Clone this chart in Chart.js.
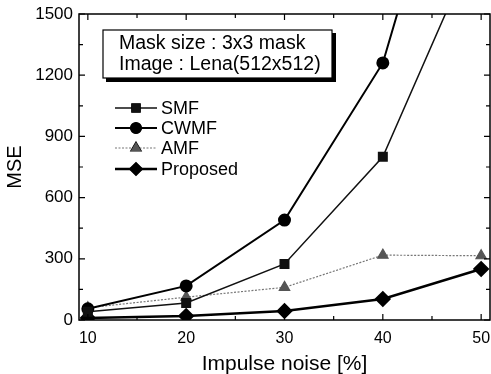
<!DOCTYPE html>
<html>
<head>
<meta charset="utf-8">
<script src="https://cdn.jsdelivr.net/npm/chart.js@4.4.1/dist/chart.umd.min.js"></script>
<style>
  html, body { margin: 0; padding: 0; background: #fff; }
  #wrap { width: 491px; height: 374px; position: relative; }
</style>
</head>
<body>
<div id="wrap"><canvas id="chart" width="491" height="374"></canvas></div>
<script>
// impulse noise density [%]
const noise = [10, 20, 30, 40, 50];
// MSE values (CWMF and SMF leave the top of the chart at 50%)
const smf = [40, 83, 275, 800, 1900];
const cwmf = [55, 167, 490, 1260, 2900];
const amf = [60, 112, 160, 318, 315];
const proposed = [10, 20, 44, 103, 250];

const xTicks = [10, 20, 30, 40, 50];
const yTicks = [0, 300, 600, 900, 1200, 1500];
const infoLines = ["Mask size : 3x3 mask", "Image : Lena(512x512)"];

const FONT = "'Liberation Sans', Arial, sans-serif";

function pts(vals) {
  return noise.map((x, i) => ({x: x, y: vals[i]}));
}

// inward ticks + frame, info box, legend
const decorations = {
  id: "decorations",
  afterDraw(chart) {
    const ctx = chart.ctx;
    const a = chart.chartArea;
    const xs = chart.scales.x, ys = chart.scales.y;
    ctx.save();
    ctx.strokeStyle = "#000";
    ctx.lineWidth = 1.5;
    ctx.strokeRect(a.left, a.top, a.right - a.left, a.bottom - a.top);

    ctx.lineWidth = 1.2;
    ctx.beginPath();
    for (let v = 0; v <= 1500; v += 150) {
      const y = ys.getPixelForValue(v);
      const len = v % 300 === 0 ? 6 : 4;
      ctx.moveTo(a.left, y); ctx.lineTo(a.left + len, y);
      ctx.moveTo(a.right, y); ctx.lineTo(a.right - len, y);
    }
    for (let v = 10; v <= 50; v += 5) {
      const x = xs.getPixelForValue(v);
      const len = v % 10 === 0 ? 6 : 4;
      ctx.moveTo(x, a.bottom); ctx.lineTo(x, a.bottom - len);
      ctx.moveTo(x, a.top); ctx.lineTo(x, a.top + len);
    }
    ctx.stroke();

    // info box with drop shadow
    ctx.fillStyle = "#000";
    ctx.fillRect(106, 33, 230, 49);
    ctx.fillStyle = "#fff";
    ctx.fillRect(103, 30, 229, 48);
    ctx.lineWidth = 1.2;
    ctx.strokeRect(103, 30, 229, 48);
    ctx.fillStyle = "#000";
    ctx.font = "19.5px " + FONT;
    ctx.textBaseline = "middle";
    ctx.textAlign = "left";
    ctx.fillText(infoLines[0], 119, 44);
    ctx.fillText(infoLines[1], 119, 65);

    // legend
    const rows = [108, 128, 148, 169];
    chart.data.datasets.forEach((ds, i) => {
      const y = rows[i];
      ctx.save();
      ctx.strokeStyle = ds.borderColor;
      ctx.lineWidth = ds.borderWidth;
      ctx.setLineDash(ds.borderDash || []);
      ctx.beginPath();
      ctx.moveTo(115, y); ctx.lineTo(157, y);
      ctx.stroke();
      ctx.restore();
      Chart.helpers.drawPoint(ctx, {
        pointStyle: ds.pointStyle,
        radius: ds.pointRadius,
        borderWidth: 1
      }, 136, y);
      ctx.fillStyle = ds.pointBackgroundColor;
      ctx.fill();
      ctx.fillStyle = "#000";
      ctx.font = "18px " + FONT;
      ctx.textBaseline = "middle";
      ctx.fillText(ds.label, 161, y + 1);
    });
    ctx.restore();
  }
};

const ctx = document.getElementById("chart").getContext("2d");
new Chart(ctx, {
  type: "line",
  data: {
    datasets: [
      {label: "SMF", data: pts(smf), borderColor: "#111", borderWidth: 1.5,
       pointStyle: "rect", pointRadius: 6, pointBackgroundColor: "#111", pointBorderColor: "#111"},
      {label: "CWMF", data: pts(cwmf), borderColor: "#000", borderWidth: 2,
       pointStyle: "circle", pointRadius: 5.5, pointBackgroundColor: "#000", pointBorderColor: "#000"},
      {label: "AMF", data: pts(amf), borderColor: "#777", borderWidth: 1.2, borderDash: [2, 1.5],
       pointStyle: "triangle", pointRadius: 6, pointBackgroundColor: "#555", pointBorderColor: "#555"},
      {label: "Proposed", data: pts(proposed), borderColor: "#000", borderWidth: 2.5,
       pointStyle: "rectRot", pointRadius: 6.5, pointBackgroundColor: "#000", pointBorderColor: "#000"}
    ]
  },
  options: {
    responsive: false,
    animation: false,
    layout: {autoPadding: false, padding: {top: 14, right: 1, left: 0, bottom: 0}},
    plugins: {legend: {display: false}, tooltip: {enabled: false}},
    scales: {
      x: {
        type: "linear",
        min: 9.1,
        max: 50.9,
        afterBuildTicks(scale) { scale.ticks = xTicks.map(v => ({value: v})); },
        afterFit(scale) { scale.height = 54; scale.paddingLeft = 0; scale.paddingRight = 0; },
        grid: {display: false, drawTicks: false},
        border: {display: false},
        ticks: {color: "#000", padding: 9, font: {family: FONT, size: 16}},
        title: {display: true, text: "Impulse noise [%]", color: "#000",
                padding: {top: 0, bottom: -3}, font: {family: FONT, size: 21}}
      },
      y: {
        min: 0,
        max: 1500,
        afterBuildTicks(scale) { scale.ticks = yTicks.map(v => ({value: v})); },
        afterFit(scale) { scale.width = 79; scale.paddingTop = 0; scale.paddingBottom = 0; },
        grid: {display: false, drawTicks: false},
        border: {display: false},
        ticks: {color: "#000", padding: 6, font: {family: FONT, size: 17},
                callback: v => String(v)},
        title: {display: true, text: "MSE", color: "#000",
                padding: {top: 3, bottom: 0}, font: {family: FONT, size: 20}}
      }
    }
  },
  plugins: [decorations]
});
</script>
</body>
</html>
